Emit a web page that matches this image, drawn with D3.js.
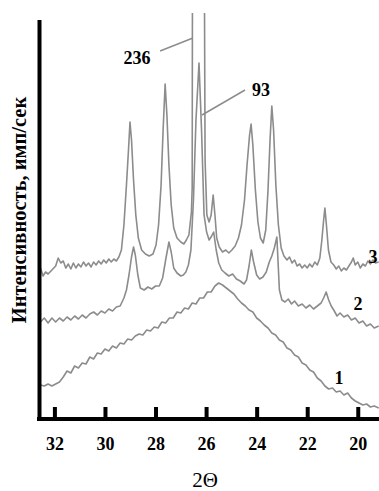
<!DOCTYPE html>
<html>
<head>
<meta charset="utf-8">
<script src="https://cdn.jsdelivr.net/npm/d3@7"></script>
<style>
  body { margin: 0; background: #fff; }
  svg { display: block; font-family: "Liberation Serif", "Times New Roman", serif; }
</style>
</head>
<body>
<svg id="chart"></svg>
<script>
// 2Θ tick labels
const xTicks = [32, 30, 28, 26, 24, 22, 20];

// [2Θ, intensity] (arbitrary units)
const curve1 = [
  [32.55, 8.75], [32.40, 8.5], [32.25, 9], [32.10, 8.5], [31.95, 9], [31.80, 9.5], [31.65, 10.75],
  [31.50, 12.25], [31.35, 11.75], [31.20, 13.5], [31.05, 13], [30.90, 14.25], [30.75, 14],
  [30.60, 15.75], [30.45, 15.25], [30.30, 16.75], [30.15, 16.5], [30.00, 17.75], [29.85, 17.25],
  [29.70, 18.5], [29.55, 18], [29.40, 19.25], [29.25, 19], [29.10, 20.25], [28.95, 20],
  [28.80, 21], [28.65, 21.5], [28.50, 21.25], [28.35, 22.5], [28.20, 22.25], [28.05, 23.25],
  [27.90, 23], [27.75, 24.5], [27.60, 24.25], [27.45, 25.5], [27.30, 25.5], [27.15, 27],
  [27.00, 26.75], [26.85, 28], [26.70, 27.75], [26.55, 29.25], [26.40, 29], [26.25, 30.5],
  [26.10, 30.5], [25.95, 32], [25.80, 32], [25.65, 33.5], [25.50, 34.25], [25.35, 33.75],
  [25.20, 33], [25.05, 32.25], [24.90, 31.5], [24.75, 30.25], [24.60, 29.25], [24.45, 28.5],
  [24.30, 27.5], [24.15, 27], [24.00, 25.5], [23.85, 24.75], [23.70, 23.75], [23.55, 23],
  [23.40, 21.75], [23.25, 21.25], [23.10, 20], [22.95, 19.5], [22.80, 18], [22.65, 17.5],
  [22.50, 16.25], [22.35, 15.75], [22.20, 14.25], [22.05, 13.75], [21.90, 12.5], [21.75, 12],
  [21.60, 10.5], [21.45, 9.75], [21.30, 8.5], [21.15, 7.75], [21.00, 8], [20.85, 7],
  [20.70, 7.25], [20.55, 6.25], [20.40, 6.75], [20.25, 5.5], [20.10, 4.75], [19.95, 4.25],
  [19.80, 3.75], [19.65, 4], [19.50, 3.25], [19.35, 3.5], [19.17, 3]
];

const curve2 = [
  [32.55, 24.5], [32.40, 25.5], [32.25, 24.25], [32.10, 25.5], [31.95, 24.5], [31.80, 25.5],
  [31.65, 24.75], [31.50, 25.75], [31.35, 25], [31.20, 26], [31.05, 25.25], [30.90, 26.25],
  [30.75, 25.5], [30.60, 26.5], [30.45, 27], [30.30, 26.25], [30.15, 27.25], [30.00, 26.75],
  [29.85, 27.75], [29.70, 27.25], [29.55, 28.25], [29.40, 28.5], [29.25, 30.5], [29.15, 32.5],
  [29.05, 36.25], [28.95, 40.75], [28.87, 43.25], [28.80, 41.25], [28.70, 36.25], [28.60, 33],
  [28.45, 32.5], [28.30, 33.25], [28.15, 32.75], [28.00, 33.5], [27.85, 33.5], [27.72, 35.5],
  [27.60, 40], [27.47, 44.5], [27.38, 42], [27.28, 38], [27.15, 36.75], [27.00, 36],
  [26.90, 36.25], [26.80, 37], [26.70, 38.75], [26.60, 42.5], [26.50, 55], [26.40, 75],
  [26.28, 89.25], [26.18, 72.5], [26.08, 51.25], [25.98, 47], [25.88, 45], [25.78, 46],
  [25.70, 47], [25.60, 42.5], [25.50, 39.25], [25.38, 37.5], [25.25, 36.75], [25.10, 36],
  [24.95, 36.5], [24.80, 35.25], [24.65, 34.75], [24.50, 34], [24.40, 35], [24.30, 38.5],
  [24.21, 42.5], [24.12, 39.5], [24.00, 36.25], [23.88, 35.25], [23.75, 35.75], [23.62, 37],
  [23.50, 39.5], [23.40, 41], [23.30, 43], [23.20, 45.75], [23.10, 32.5], [23.00, 30],
  [22.88, 29.5], [22.75, 30.25], [22.62, 29], [22.50, 29.75], [22.35, 28.5], [22.20, 29],
  [22.05, 28], [21.90, 28.75], [21.75, 27.75], [21.60, 28.5], [21.45, 29.25], [21.35, 30.5],
  [21.25, 32], [21.15, 30], [21.05, 28.5], [20.95, 27.5], [20.82, 26], [20.70, 26.75],
  [20.55, 25.75], [20.40, 26.25], [20.25, 25], [20.10, 25.5], [19.95, 24.25], [19.80, 24.75],
  [19.65, 23.5], [19.50, 24], [19.35, 23], [19.17, 23.5]
];

const curve3 = [
  [32.55, 38], [32.45, 36], [32.35, 37], [32.25, 36.5], [32.10, 37.5], [31.95, 38.5],
  [31.85, 40.5], [31.75, 39.25], [31.65, 39.75], [31.55, 38], [31.45, 39], [31.35, 37.75],
  [31.25, 39.25], [31.15, 38], [31.05, 39], [30.95, 38.25], [30.85, 39.5], [30.75, 38.5],
  [30.65, 39.25], [30.55, 38.25], [30.45, 39.5], [30.35, 38.75], [30.25, 39.75], [30.15, 39],
  [30.05, 40], [29.95, 39.25], [29.85, 40.25], [29.75, 39.5], [29.65, 40.25], [29.55, 39.75],
  [29.45, 40.75], [29.35, 42.5], [29.25, 48.75], [29.15, 58.75], [29.07, 67.5], [29.01, 74.5],
  [28.95, 70], [28.87, 60], [28.78, 51.25], [28.68, 45.5], [28.55, 42.5], [28.40, 41.5],
  [28.25, 41], [28.10, 41.5], [27.98, 43.75], [27.88, 48.75], [27.78, 58.75], [27.70, 72.5],
  [27.62, 84], [27.55, 76.25], [27.47, 63.75], [27.38, 53.75], [27.28, 48], [27.15, 45.5],
  [27.00, 44.5], [26.88, 44], [26.78, 45], [26.68, 46.25], [26.58, 52], [26.55, 58],
  [26.52, 200], [26.12, 200], [26.04, 65], [25.97, 51.25], [25.88, 49.5], [25.80, 51.25],
  [25.72, 56.25], [25.65, 51.25], [25.58, 45.5], [25.48, 43.25], [25.35, 42], [25.22, 42.5],
  [25.10, 41.75], [24.98, 42.5], [24.85, 43.5], [24.72, 45.5], [24.60, 48.75], [24.48, 55],
  [24.38, 63.75], [24.28, 71.25], [24.22, 74], [24.15, 68.75], [24.05, 57.5], [23.95, 49.5],
  [23.85, 45.5], [23.74, 44.25], [23.64, 47.5], [23.55, 57.5], [23.47, 70], [23.40, 78.5],
  [23.33, 72.5], [23.24, 58.75], [23.14, 48.75], [23.03, 43], [22.92, 41], [22.80, 40],
  [22.70, 40.75], [22.60, 39.25], [22.50, 40], [22.40, 38.5], [22.30, 39], [22.20, 38],
  [22.10, 38.75], [22.00, 38], [21.90, 39], [21.80, 38.25], [21.70, 39.5], [21.60, 38.75],
  [21.50, 40.5], [21.42, 45], [21.35, 50], [21.30, 53], [21.24, 48.75], [21.16, 42.5],
  [21.06, 39.5], [20.95, 38.75], [20.85, 37.75], [20.75, 38.5], [20.65, 37.25], [20.55, 38],
  [20.45, 37.5], [20.35, 38.5], [20.25, 39.5], [20.18, 40.5], [20.10, 38.75], [20.00, 39.5],
  [19.90, 38], [19.80, 39], [19.70, 38.5], [19.60, 39.75], [19.50, 39], [19.40, 40],
  [19.30, 39.25], [19.17, 39.5]
];

const curveLabels = [
  { text: '1', angle: 20.74, value: 10.5 },
  { text: '2', angle: 19.99, value: 29 },
  { text: '3', angle: 19.40, value: 40.75 }
];

// peak counts with their leader lines
const peakNotes = [
  { text: '236', angle: 28.73, value: 90.5, from: [27.82, 92.25], to: [26.52, 95.5] },
  { text: '93', angle: 23.83, value: 82.5, from: [24.46, 82.5], to: [26.16, 76.25] }
];

const config = {
  width: 379,
  height: 491,
  left: 40,
  top: 20,
  axisY: 419,
  clipTop: 13
};

const svg = d3.select('#chart')
  .attr('width', config.width)
  .attr('height', config.height);

const xScale = d3.scaleLinear()
  .domain([32.57, 19.16])
  .range([config.left, config.width]);

const yScale = d3.scaleLinear()
  .domain([0, 100])
  .range([420, 20]);

// clip so the big peak runs off the top like in the print
svg.append('defs').append('clipPath')
  .attr('id', 'plot-clip')
  .append('rect')
  .attr('x', config.left)
  .attr('y', config.clipTop)
  .attr('width', config.width - config.left)
  .attr('height', config.axisY - config.clipTop);

const line = d3.line()
  .x(d => xScale(d[0]))
  .y(d => yScale(d[1]));

const plot = svg.append('g').attr('clip-path', 'url(#plot-clip)');

plot.selectAll('.curve')
  .data([curve1, curve2, curve3])
  .join('path')
  .attr('class', 'curve')
  .attr('d', line)
  .attr('fill', 'none')
  .attr('stroke', '#8c8c8c')
  .attr('stroke-width', 1.6)
  .attr('stroke-linejoin', 'round');

// x axis with inward ticks
const xAxis = d3.axisBottom(xScale)
  .tickValues(xTicks)
  .tickFormat(d3.format('d'))
  .tickSizeInner(-12)
  .tickSizeOuter(0)
  .tickPadding(18);

const xAxisG = svg.append('g')
  .attr('transform', `translate(0,${config.axisY})`)
  .call(xAxis)
  .call(g => g.select('.domain').remove());

xAxisG.selectAll('.tick line')
  .attr('stroke', '#000')
  .attr('stroke-width', 4);

xAxisG.selectAll('.tick text')
  .attr('fill', '#000')
  .attr('font-family', '"Liberation Serif", serif')
  .attr('font-weight', 'bold')
  .attr('font-size', 18);

svg.append('line')
  .attr('x1', config.left - 3).attr('x2', config.width)
  .attr('y1', config.axisY).attr('y2', config.axisY)
  .attr('stroke', '#000')
  .attr('stroke-width', 4);

svg.append('line')
  .attr('x1', config.left - 0.5).attr('x2', config.left - 0.5)
  .attr('y1', config.top).attr('y2', config.axisY + 2)
  .attr('stroke', '#000')
  .attr('stroke-width', 4);

// axis titles
svg.append('text')
  .attr('x', 205)
  .attr('y', 487)
  .attr('text-anchor', 'middle')
  .attr('font-size', 21)
  .text('2Θ');

svg.append('text')
  .attr('transform', 'translate(19,210) rotate(-90)')
  .attr('text-anchor', 'middle')
  .attr('dominant-baseline', 'central')
  .attr('font-weight', 'bold')
  .attr('font-size', 20.5)
  .text('Интенсивность, имп/сек');

// curve numbers
svg.selectAll('.curve-label')
  .data(curveLabels)
  .join('text')
  .attr('class', 'curve-label')
  .attr('x', d => xScale(d.angle))
  .attr('y', d => yScale(d.value))
  .attr('text-anchor', 'middle')
  .attr('dominant-baseline', 'central')
  .attr('font-weight', 'bold')
  .attr('font-size', 18)
  .text(d => d.text);

// peak notes
svg.selectAll('.leader')
  .data(peakNotes)
  .join('line')
  .attr('class', 'leader')
  .attr('x1', d => xScale(d.from[0]))
  .attr('y1', d => yScale(d.from[1]))
  .attr('x2', d => xScale(d.to[0]))
  .attr('y2', d => yScale(d.to[1]))
  .attr('stroke', '#8c8c8c')
  .attr('stroke-width', 1.5);

svg.selectAll('.peak-note')
  .data(peakNotes)
  .join('text')
  .attr('class', 'peak-note')
  .attr('x', d => xScale(d.angle))
  .attr('y', d => yScale(d.value))
  .attr('text-anchor', 'middle')
  .attr('dominant-baseline', 'central')
  .attr('font-weight', 'bold')
  .attr('font-size', 18)
  .text(d => d.text);
</script>
</body>
</html>
